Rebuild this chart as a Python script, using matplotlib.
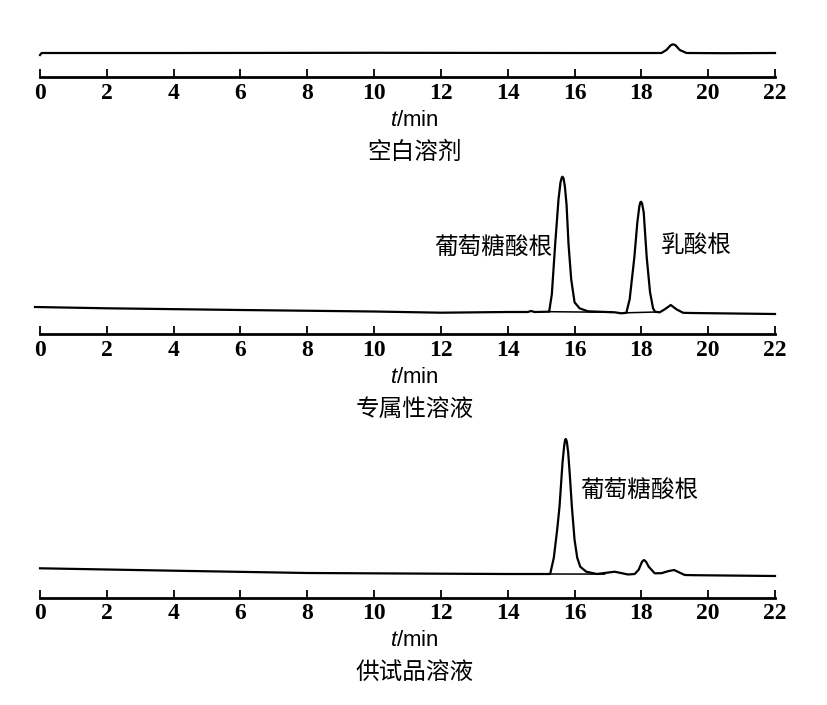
import matplotlib
matplotlib.use('Agg')
import matplotlib.pyplot as plt

plt.rcParams['font.family'] = ['Noto Sans CJK SC', 'DejaVu Sans']
plt.rcParams['mathtext.fontset'] = 'custom'
plt.rcParams['mathtext.it'] = 'Liberation Sans:italic'
plt.rcParams['mathtext.rm'] = 'Liberation Sans'

# time axis ticks (min)
ticks = list(range(0, 23, 2))

# blank solvent trace (time min, signal a.u.)
blank_t = [0.0, 0.05, 4.0, 10.0, 16.0, 18.6, 18.75, 18.88, 18.95, 19.02, 19.15, 19.35, 20.5, 22.0]
blank_s = [22.0, 24.0, 24.0, 24.2, 24.0, 24.0, 27.0, 31.8, 32.7, 31.8, 27.0, 24.0, 23.8, 24.0]

# specificity solution trace
spec_t = [-0.15, 2.0, 6.0, 10.0, 12.0, 14.0, 14.6, 14.7, 14.8, 15.24, 15.32, 15.42, 15.52,
          15.58, 15.62, 15.64, 15.67, 15.71, 15.76, 15.82, 15.90, 16.00, 16.15, 16.40, 17.2,
          17.4, 17.55, 17.65, 17.79, 17.88, 17.94, 17.97, 17.99, 18.02, 18.07, 18.16, 18.26,
          18.35, 18.41, 18.55, 18.70, 18.88, 19.05, 19.25, 19.5, 22.0]
spec_s = [27.3, 26.0, 24.3, 22.8, 21.6, 22.3, 22.3, 23.3, 22.3, 22.6, 40.0, 90.0, 135.0,
          152.0, 157.0, 157.6, 156.0, 148.0, 130.0, 90.0, 55.0, 32.0, 26.0, 23.0, 22.0,
          21.0, 21.5, 35.0, 77.0, 112.0, 128.0, 132.0, 132.6, 131.0, 122.0, 77.0, 42.0,
          26.0, 22.5, 22.0, 25.0, 29.3, 25.0, 21.5, 21.3, 20.3]
spec_base = [([15.24, 17.1], [22.6, 22.0]), ([17.55, 18.45], [21.5, 22.3])]

# sample solution trace
samp_t = [0.0, 4.0, 8.0, 12.0, 14.0, 15.27, 15.38, 15.48, 15.55, 15.64, 15.69, 15.72, 15.74,
          15.77, 15.81, 15.86, 15.92, 16.00, 16.08, 16.17, 16.35, 16.67, 17.2, 17.6, 17.8,
          17.92, 18.02, 18.08, 18.14, 18.22, 18.4, 18.6, 18.8, 18.98, 19.15, 19.3, 19.6, 22.0]
samp_s = [29.4, 27.0, 24.7, 24.0, 23.7, 23.7, 40.0, 68.0, 91.0, 135.0, 152.0, 158.0, 158.7,
          156.0, 145.0, 122.0, 91.0, 58.0, 40.0, 31.0, 26.0, 23.7, 26.0, 23.2, 23.7,
          28.0, 36.0, 37.7, 36.0, 31.0, 24.4, 24.5, 26.5, 27.7, 25.0, 22.7, 22.5, 21.7]
samp_base = [([15.27, 16.9], [23.7, 23.6])]

titles = ['空白溶剂', '专属性溶液', '供试品溶液']
peak_labels = [[], [('葡萄糖酸根', 15.33, 86, 'right'), ('乳酸根', 18.6, 89, 'left')],
               [('葡萄糖酸根', 16.17, 106, 'left')]]

W, H = 828, 705
fig = plt.figure(figsize=(W / 100, H / 100), dpi=100)

panels = [
    (blank_t, blank_s, [], 77, 40),
    (spec_t, spec_s, spec_base, 334.3, 165),
    (samp_t, samp_s, samp_base, 597.7, 165),
]

for i, (t, s, base, axis_px, h_px) in enumerate(panels):
    ax = fig.add_axes([40 / W, 1 - axis_px / H, 735 / W, h_px / H])
    ax.plot(t, s, color='black', lw=1.6, clip_on=False, solid_joinstyle='round')
    for bx, by in base:
        ax.plot(bx, by, color='black', lw=1.1, clip_on=False)
    ax.set_xlim(0, 22)
    ax.set_ylim(0, h_px)
    for sp in ['top', 'left', 'right']:
        ax.spines[sp].set_visible(False)
    ax.spines['bottom'].set_linewidth(2.0)
    ax.set_yticks([])
    ax.set_xticks(ticks)
    ax.set_xticklabels([str(v) for v in ticks], fontfamily='Liberation Serif',
                       fontweight='bold', fontsize=17)
    ax.tick_params(axis='x', direction='in', length=5.5, width=1.3, pad=4)
    ax.patch.set_visible(False)

    ax.annotate(r'$t$/min', xy=(0.51, 0), xycoords='axes fraction',
                xytext=(0, -31), textcoords='offset points', ha='center', va='center',
                fontsize=16, fontfamily='Liberation Sans')
    ax.annotate(titles[i], xy=(0.51, 0), xycoords='axes fraction',
                xytext=(0, -54), textcoords='offset points', ha='center', va='center',
                fontsize=17)
    for txt, x, y, ha in peak_labels[i]:
        ax.text(x, y, txt, ha=ha, va='center', fontsize=17)

fig.savefig('out.png', dpi=100)
